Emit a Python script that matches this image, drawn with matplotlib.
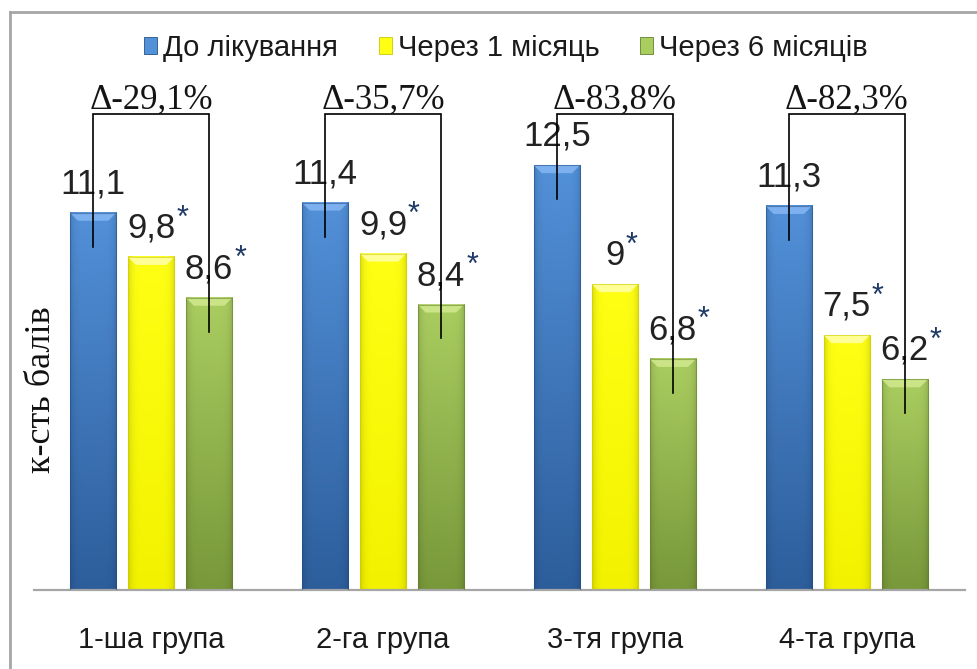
import numpy as np
import matplotlib
matplotlib.use("Agg")
import matplotlib.pyplot as plt
from matplotlib import font_manager
from matplotlib.patches import Rectangle, Polygon
from matplotlib.lines import Line2D
from matplotlib.colors import to_rgb

# ---- data -------------------------------------------------------------
groups = ["1-ша група", "2-га група", "3-тя група", "4-та група"]
series_names = ["До лікування", "Через 1 місяць", "Через 6 місяців"]
before = [11.1, 11.4, 12.5, 11.3]
after_1m = [9.8, 9.9, 9.0, 7.5]
after_6m = [8.6, 8.4, 6.8, 6.2]
value_labels_before = ["11,1", "11,4", "12,5", "11,3"]
value_labels_1m = ["9,8", "9,9", "9", "7,5"]
value_labels_6m = ["8,6", "8,4", "6,8", "6,2"]
starred = [False, True, True]
delta_labels = ["Δ-29,1%", "Δ-35,7%", "Δ-83,8%", "Δ-82,3%"]
y_label = "к-сть балів"

# ---- style ------------------------------------------------------------
available = {f.name for f in font_manager.fontManager.ttflist}
SANS = "Liberation Sans"
NARROW = "Liberation Sans Narrow" if "Liberation Sans Narrow" in available else SANS
SERIF = "Liberation Serif"

palettes = [
    dict(top="#5290d8", bottom="#2d5e9c", bevel="#7db0ee", edge="#24508a"),
    dict(top="#ffff14", bottom="#f2f200", bevel="#ffff96", edge="#c9c900"),
    dict(top="#aacd60", bottom="#78983a", bevel="#cbe488", edge="#62802c"),
]

W, H = 978, 669
fig = plt.figure(figsize=(W / 100, H / 100), dpi=100)
fig.patch.set_facecolor("white")

ax = fig.add_axes([34 / W, 79 / H, 931 / W, 520 / H])
ax.set_facecolor("none")

values = [before, after_1m, after_6m]
labels = [value_labels_before, value_labels_1m, value_labels_6m]
offsets = [-0.25, 0.0, 0.25]
bar_w = 0.2

x = np.arange(len(groups))
xlim = (-0.505, 3.51)
ylim = (0, 15.3)

# pixel -> data scale factors, used for bevel sizes
px_x = (xlim[1] - xlim[0]) / 931
px_y = (ylim[1] - ylim[0]) / 520


def shaded_bar(x0, x1, top, pal):
    n_r, n_c = 80, 40
    t = np.linspace(0, 1, n_r)[:, None, None]
    c_top = np.array(to_rgb(pal["top"]))
    c_bot = np.array(to_rgb(pal["bottom"]))
    img = c_top * (1 - t) + c_bot * t
    u = np.linspace(-1, 1, n_c)[None, :, None]
    shade = 1 - 0.13 * np.abs(u) ** 6
    img = np.clip(img * shade, 0, 1)
    ax.imshow(img, extent=(x0, x1, 0, top), aspect="auto", origin="upper",
              interpolation="bilinear", zorder=2)
    dx, dy = 8 * px_x, 8 * px_y
    ax.add_patch(Polygon([(x0, top), (x1, top), (x1 - dx, top - dy), (x0 + dx, top - dy)],
                         closed=True, facecolor=pal["bevel"], edgecolor="none", zorder=3))
    ax.add_patch(Rectangle((x0, 0), x1 - x0, top, fill=False, edgecolor=pal["edge"],
                           lw=0.8, alpha=0.55, zorder=4))


for s, (vals, pal) in enumerate(zip(values, palettes)):
    for g, v in enumerate(vals):
        xc = x[g] + offsets[s]
        shaded_bar(xc - bar_w / 2, xc + bar_w / 2, v, pal)

ax.set_xlim(*xlim)
ax.set_ylim(*ylim)
ax.set_aspect("auto")

for sp in ("top", "right", "left"):
    ax.spines[sp].set_visible(False)
ax.spines["bottom"].set_color("#a6a6a6")
ax.spines["bottom"].set_linewidth(1.6)
ax.set_yticks([])
ax.set_xticks(x)
ax.set_xticklabels(groups, fontsize=21, family=SANS, color="#1a1a1a")
ax.tick_params(axis="x", length=0, pad=26)

# value labels
value_texts = []
for s, (vals, labs) in enumerate(zip(values, labels)):
    for g, (v, lab) in enumerate(zip(vals, labs)):
        xc = x[g] + offsets[s]
        t = ax.annotate(lab, xy=(xc, v), xytext=(0, 9), textcoords="offset points",
                        ha="center", va="bottom", fontsize=25, family=NARROW,
                        color="#222222", zorder=6, annotation_clip=False)
        value_texts.append((t, starred[s]))

# brackets with percentage change
bracket_y = 14.0
for g in range(len(groups)):
    xl = x[g] + offsets[0]
    xr = x[g] + offsets[2]
    ax.plot([xl, xl, xr, xr], [before[g] - 1.0, bracket_y, bracket_y, after_6m[g] - 1.0],
            color="black", lw=1.2, zorder=7, solid_joinstyle="miter", clip_on=False)
    ax.text(x[g], bracket_y + 5 * px_y, delta_labels[g], ha="center", va="baseline",
            fontsize=25, family=SERIF, color="#141414", zorder=8, clip_on=False)

# y-axis caption
fig.text(42 / W, 1 - 390 / H, y_label, rotation=90, ha="center", va="center",
         fontsize=26, family=SERIF, color="#111111")

# legend
handles = [Rectangle((0, 0), 1, 1, facecolor=p["top"], edgecolor=p["edge"], lw=0.6)
           for p in palettes]
fig.legend(handles, series_names, loc="center", bbox_to_anchor=(506 / W, 1 - 48 / H),
           ncol=3, frameon=False, prop=dict(family=SANS, size=21),
           handlelength=0.45, handleheight=0.5, handletextpad=0.2, columnspacing=1.4,
           labelcolor="#1a1a1a")

# outer frame
fig.add_artist(Line2D([10 / W, 1], [1 - 12 / H, 1 - 12 / H], color="#a6a6a6", lw=2,
                      transform=fig.transFigure))
fig.add_artist(Line2D([10 / W, 10 / W], [0, 1 - 12 / H], color="#a6a6a6", lw=2,
                      transform=fig.transFigure))

# superscript asterisks after the starred values
fig.canvas.draw()
renderer = fig.canvas.get_renderer()
for t, star in value_texts:
    if not star:
        continue
    bb = t.get_window_extent(renderer)
    fig.text((bb.x1 + 1) / W, (bb.y1 + 8) / H, "*", ha="left", va="top",
             fontsize=22, family=SANS, color="#1f3a66")

fig.savefig("out.png", dpi=100, facecolor="white")
